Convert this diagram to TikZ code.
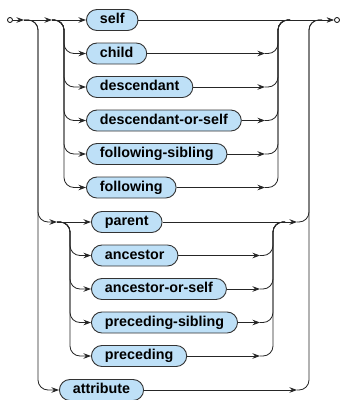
\documentclass[tikz,border=0pt]{standalone}
\usepackage{fontspec}
\setmainfont{Liberation Sans}
\usetikzlibrary{shapes.misc,arrows.meta}
\definecolor{termfill}{RGB}{190,224,247}
\tikzset{
	term/.style={draw=black!80, fill=termfill, rounded rectangle, line width=0.9pt,
		minimum height=21pt, inner xsep=11pt, inner ysep=0pt, text height=10.5pt, text depth=3pt,
		anchor=west, font=\bfseries\fontsize{14.3}{16}\selectfont},
	rail/.style={line width=0.8pt, draw=black!85, rounded corners=10pt},
	arr/.style={rail, -{Stealth[length=7.5pt,width=5.5pt]}},
	endpt/.style={draw, circle, inner sep=0pt, minimum size=5pt, line width=0.8pt}
}

\begin{document}
\begin{tikzpicture}[x=1pt,y=-1pt]
			\useasboundingbox (0,0) rectangle (340,400);

			% End points and junctions
			\node[endpt] (start) at (10,20) {};
			\node[endpt] (finish) at (337,20) {};
			\coordinate (split1) at (24,20);
			\coordinate (split2) at (52,20);
			\coordinate (split3) at (57,222);
			\coordinate (lane0) at (38,0);
			\coordinate (lane1) at (64,0);
			\coordinate (lane2) at (70,0);
			\coordinate (tip1) at (265,0);
			\coordinate (tip2) at (260,0);
			\coordinate (tip3) at (297,0);
			\coordinate (join1) at (278,20);
			\coordinate (join2) at (273,222);
			\coordinate (join3) at (309,20);
			\coordinate (merge1) at (290,20);
			\coordinate (merge2) at (285,222);
			\coordinate (merge3) at (322,20);

			% Forward axes
			\node[term] (self) at (86,20) {self};
			\node[term] (child) at (86,53.5) {child};
			\node[term] (desc) at (86,87) {descendant};
			\node[term] (descself) at (86,120.5) {descendant-or-self};
			\node[term] (follsib) at (86,154) {following-sibling};
			\node[term] (foll) at (86,187.5) {following};

			% Reverse axes
			\node[term] (parent) at (91,222) {parent};
			\node[term] (anc) at (91,255.5) {ancestor};
			\node[term] (ancself) at (91,289) {ancestor-or-self};
			\node[term] (precsib) at (91,322.5) {preceding-sibling};
			\node[term] (prec) at (91,356) {preceding};
			\node[term] (attr) at (59,390) {attribute};

			% Main line
			\draw[arr] (start) -- (split1);
			\draw[arr] (split1) -- (split2);
			\draw[arr] (split2) -- (self.west);
			\draw[arr] (self.east) -- (finish.west);

			% Forward branches
			\draw[arr] (split2) -| (lane1 |- child.west) -- (child.west);
			\draw[arr] (split2) -| (lane1 |- desc.west) -- (desc.west);
			\draw[arr] (split2) -| (lane1 |- descself.west) -- (descself.west);
			\draw[arr] (split2) -| (lane1 |- follsib.west) -- (follsib.west);
			\draw[arr] (split2) -| (lane1 |- foll.west) -- (foll.west);
			\draw[arr] (child.east) -- (tip1 |- child.east);
			\draw[arr] (desc.east) -- (tip1 |- desc.east);
			\draw[arr] (descself.east) -- (tip1 |- descself.east);
			\draw[arr] (follsib.east) -- (tip1 |- follsib.east);
			\draw[arr] (foll.east) -- (tip1 |- foll.east);
			\draw[rail] (tip1 |- child.east) -| (join1) -- (merge1);
			\draw[rail] (tip1 |- desc.east) -| (join1) -- (merge1);
			\draw[rail] (tip1 |- descself.east) -| (join1) -- (merge1);
			\draw[rail] (tip1 |- follsib.east) -| (join1) -- (merge1);
			\draw[rail] (tip1 |- foll.east) -| (join1) -- (merge1);

			% Reverse branches
			\draw[arr] (split1) -| (lane0 |- split3) -- (split3);
			\draw[arr] (split3) -- (parent.west);
			\draw[arr] (split3) -| (lane2 |- anc.west) -- (anc.west);
			\draw[arr] (split3) -| (lane2 |- ancself.west) -- (ancself.west);
			\draw[arr] (split3) -| (lane2 |- precsib.west) -- (precsib.west);
			\draw[arr] (split3) -| (lane2 |- prec.west) -- (prec.west);
			\draw[arr] (anc.east) -- (tip2 |- anc.east);
			\draw[arr] (ancself.east) -- (tip2 |- ancself.east);
			\draw[arr] (precsib.east) -- (tip2 |- precsib.east);
			\draw[arr] (prec.east) -- (tip2 |- prec.east);
			\draw[rail] (tip2 |- anc.east) -| (join2) -- (merge2);
			\draw[rail] (tip2 |- ancself.east) -| (join2) -- (merge2);
			\draw[rail] (tip2 |- precsib.east) -| (join2) -- (merge2);
			\draw[rail] (tip2 |- prec.east) -| (join2) -- (merge2);
			\draw[arr] (parent.east) -- (tip3 |- parent.east);
			\draw[rail] (tip3 |- parent.east) -| (join3) -- (merge3);

			% Attribute
			\draw[arr] (split1) -| (lane0 |- attr.west) -- (attr.west);
			\draw[arr] (attr.east) -- (tip3 |- attr.east);
			\draw[rail] (tip3 |- attr.east) -| (join3) -- (merge3);
		\end{tikzpicture}
\end{document}
